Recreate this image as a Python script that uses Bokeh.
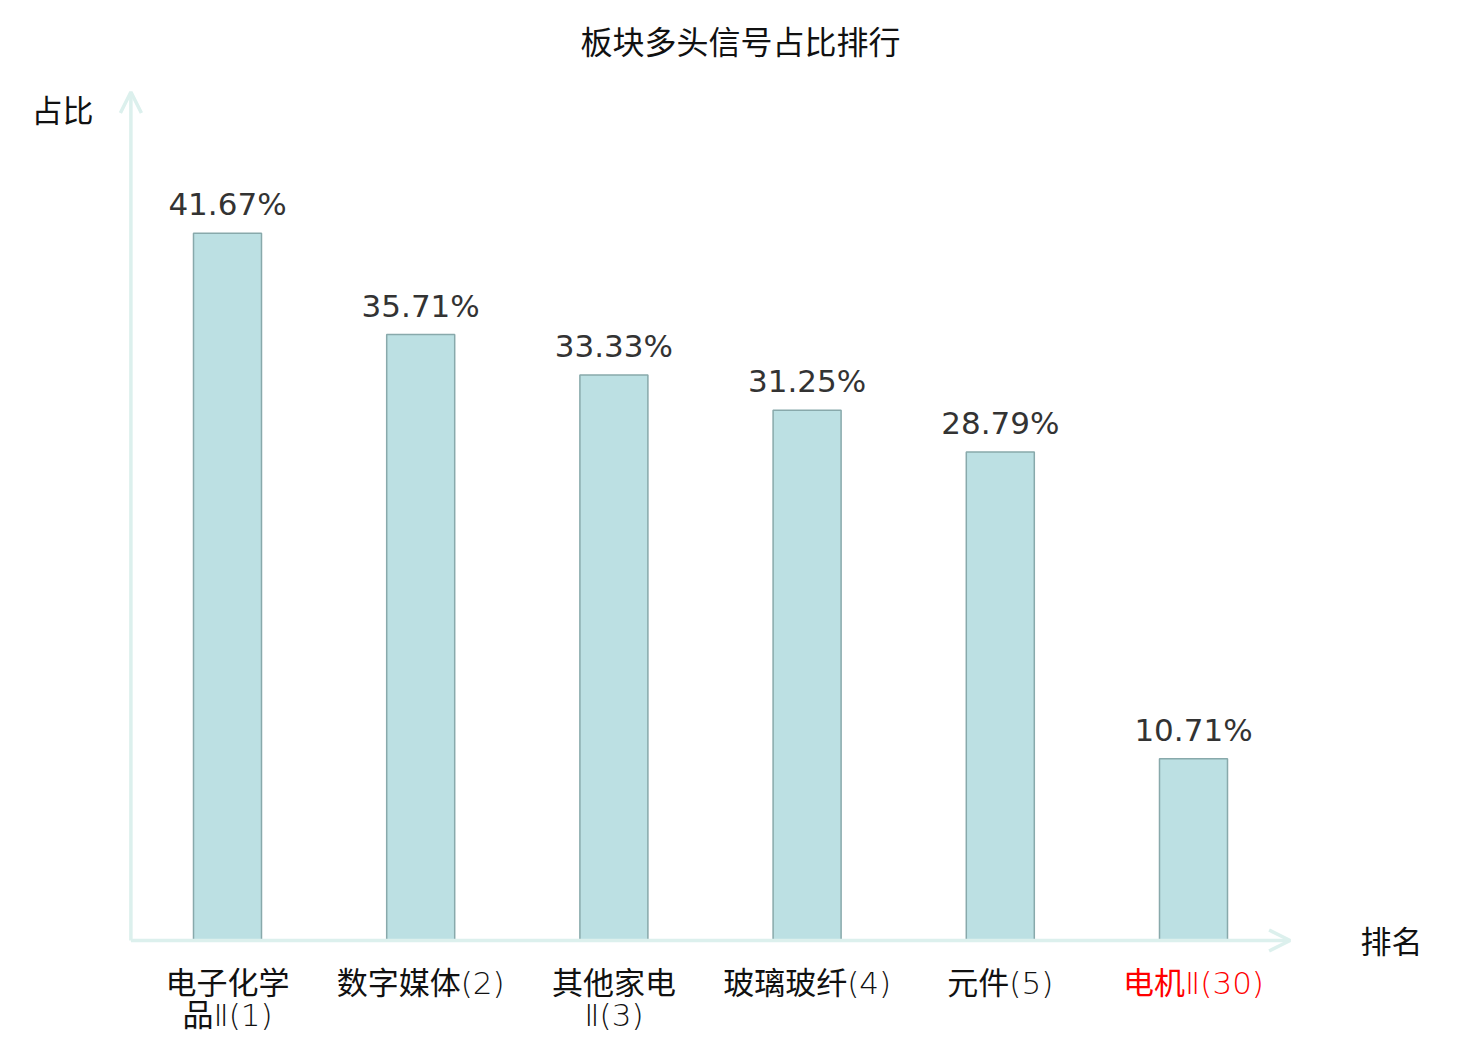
from bokeh.plotting import figure
from bokeh.models import Range1d, ColumnDataSource, Arrow, OpenHead, Label
from bokeh.embed import file_html
from bokeh.resources import INLINE
from bokeh.core.properties import value

# ---- data ----
title_text = "板块多头信号占比排行"
y_name = "占比"
x_name = "排名"
categories = ["电子化学品Ⅱ(1)", "数字媒体(2)", "其他家电Ⅱ(3)", "玻璃玻纤(4)", "元件(5)", "电机Ⅱ(30)"]
label_lines1 = ["电子化学", "数字媒体(2)", "其他家电", "玻璃玻纤(4)", "元件(5)", "电机Ⅱ(30)"]
label_lines2 = ["品Ⅱ(1)", "", "Ⅱ(3)", "", "", ""]
ratios = [41.67, 35.71, 33.33, 31.25, 28.79, 10.71]
highlight = "电机Ⅱ(30)"
y_max = 50

W, H = 1480, 1040
step = 193.2
px_per_unit = 16.97
x0_px = 227.0      # canvas x of first category
base_px = 940.0    # canvas y (from top) of baseline

xs = list(range(len(categories)))
x_start = -x0_px / step
x_end = x_start + W / step
y_start = -(H - base_px) / px_per_unit
y_end = base_px / px_per_unit

p = figure(width=W, height=H, output_backend="svg", toolbar_location=None,
           x_range=Range1d(x_start, x_end), y_range=Range1d(y_start, y_end),
           x_axis_type=None, y_axis_type=None, min_border=0)
p.grid.visible = False
p.outline_line_color = None
p.background_fill_color = "white"
p.border_fill_color = "white"

axis_color = "#dcf0ed"
# axes with arrows
p.add_layout(Arrow(x_start=-0.5, y_start=0, x_end=len(categories) - 0.5, y_end=0,
                   line_color=axis_color, line_width=3.5,
                   end=OpenHead(size=21, line_color=axis_color, line_width=3.5)))
p.add_layout(Arrow(x_start=-0.5, y_start=0, x_end=-0.5, y_end=y_max,
                   line_color=axis_color, line_width=3.5,
                   end=OpenHead(size=21, line_color=axis_color, line_width=3.5)))

src = ColumnDataSource(dict(
    x=xs, top=ratios,
    lab=[f"{v:.2f}%" for v in ratios],
    l1=label_lines1, l2=label_lines2,
    col=["#ff0000" if c == highlight else "#111111" for c in categories],
))

p.vbar(x="x", top="top", bottom=0, width=0.352, source=src,
       fill_color="#bce0e3", line_color="#88a9ab", line_width=1.5)

p.text(x="x", y="top", text="lab", source=src, y_offset=-29,
       text_align="center", text_baseline="alphabetic",
       text_font=value("DejaVu Sans"), text_font_size="31px", text_color="#333333")

lab_font = value("'DejaVu Sans Light', 'DejaVu Sans ExtraLight', 'Noto Sans CJK SC', sans-serif")
p.text(x="x", y=0, text="l1", source=src, y_offset=42,
       text_align="center", text_baseline="middle",
       text_font=lab_font, text_font_size="31px", text_color="col")
p.text(x="x", y=0, text="l2", source=src, y_offset=74,
       text_align="center", text_baseline="middle",
       text_font=lab_font, text_font_size="31px", text_color="col")

p.add_layout(Label(x=740, y=H - 39, x_units="screen", y_units="screen", text=title_text,
                   text_align="center", text_baseline="middle",
                   text_font="Noto Sans CJK SC", text_font_size="32px", text_color="#111111"))
p.add_layout(Label(x=62, y=H - 108, x_units="screen", y_units="screen", text=y_name,
                   text_align="center", text_baseline="middle",
                   text_font="Noto Sans CJK SC", text_font_size="31px", text_color="#111111"))
p.add_layout(Label(x=1391, y=H - 939, x_units="screen", y_units="screen", text=x_name,
                   text_align="center", text_baseline="middle",
                   text_font="Noto Sans CJK SC", text_font_size="31px", text_color="#111111"))

open("out.html", "w").write(file_html(p, INLINE))
